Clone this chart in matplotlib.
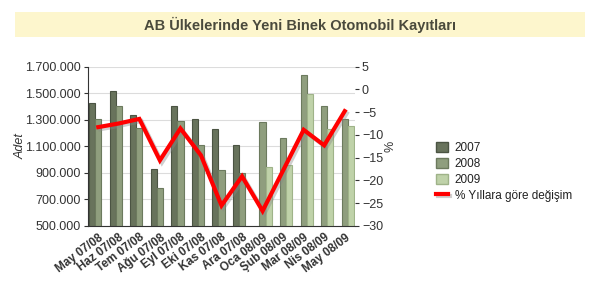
import numpy as np
import matplotlib
matplotlib.use("Agg")
import matplotlib.pyplot as plt
import matplotlib.patheffects as pe
from matplotlib.patches import Rectangle
from matplotlib.lines import Line2D
from matplotlib.ticker import FuncFormatter

plt.rcParams['font.family'] = ['Liberation Sans', 'DejaVu Sans']

categories = ['May 07/08', 'Haz 07/08', 'Tem 07/08', 'Ağu 07/08', 'Eyl 07/08', 'Eki 07/08',
              'Kas 07/08', 'Ara 07/08', 'Oca 08/09', 'Şub 08/09', 'Mar 08/09', 'Nis 08/09',
              'May 08/09']
s2007 = [1425000, 1517500, 1332500, 932500, 1405000, 1307500, 1232500, 1110000,
         None, None, None, None, None]
s2008 = [1307500, 1405000, 1240000, 785000, 1287500, 1112500, 920000, 900000,
         1285000, 1165000, 1637500, 1400000, 1307500]
s2009 = [None, None, None, None, None, None, None, None,
         945000, 957500, 1495000, 1230000, 1250000]
pct_change = [-8.3, -7.5, -6.5, -15.6, -8.6, -14.5, -25.5, -19.1, -26.7, -17.8, -8.9, -12.3, -4.8]
series_names = ['2007', '2008', '2009']
line_name = '% Yıllara göre değişim'
title = 'AB Ülkelerinde Yeni Binek Otomobil Kayıtları'

face = ['#68735c', '#8f9e7e', '#bfd2a9']
edge = ['#4b5443', '#6c7a5e', '#9fb389']

fig = plt.figure(figsize=(6, 3), dpi=100)
fig.patch.set_facecolor('white')

# title band
fig.patches.append(Rectangle((15 / 600, 1 - 37 / 300), 570 / 600, 25 / 300,
                             transform=fig.transFigure, facecolor='#fdf6cd',
                             edgecolor='none', zorder=0))
fig.text(0.5, 1 - 24.5 / 300, title, ha='center', va='center', fontsize=10.5,
         fontweight='bold', color='#4a4a3c')

ax = fig.add_axes([88 / 600, 1 - 226 / 300, 267 / 600, 159.5 / 300])
x = np.arange(len(categories))
w = 0.3
offsets = [-0.3, 0.0, 0.3]
for data, off, fc, ec in zip([s2007, s2008, s2009], offsets, face, edge):
    xs = [xi + off for xi, v in zip(x, data) if v is not None]
    vs = [v for v in data if v is not None]
    ax.bar(xs, vs, width=w, color=fc, edgecolor=ec, linewidth=0.8, zorder=2)

ax.set_xlim(-0.5, len(categories) - 0.5)
ax.set_ylim(500000, 1700000)
ax.set_yticks(np.arange(500000, 1700001, 200000))
ax.yaxis.set_major_formatter(FuncFormatter(lambda v, p: f"{int(v):,}".replace(',', '.')))
ax.grid(axis='y', color='#dcdcdc', linewidth=0.8, zorder=0)
ax.set_axisbelow(True)
ax.set_xticks(x)
ax.set_xticklabels(categories, rotation=37, ha='right', rotation_mode='anchor',
                   fontsize=8.5, fontweight='bold', color='#333333')
ax.tick_params(axis='x', length=0, pad=4)
ax.tick_params(axis='y', labelsize=9, colors='#333333', length=3, pad=2)
for s in ['top', 'right']:
    ax.spines[s].set_visible(False)
ax.spines['left'].set_color('#333333')
ax.spines['bottom'].set_color('#333333')
ax.set_ylabel('Adet', fontsize=9, style='italic', color='#333333', labelpad=-1)

ax2 = ax.twinx()
ax2.set_ylim(-30, 5)
ax2.set_yticks(np.arange(-30, 6, 5))
ax2.plot(x, pct_change, color='#ff0000', linewidth=3, solid_joinstyle='miter', zorder=5,
         path_effects=[pe.SimpleLineShadow(offset=(1.5, -1.5), shadow_color='#888888', alpha=0.4),
                       pe.Normal()])
for s in ['top', 'left', 'bottom', 'right']:
    ax2.spines[s].set_visible(False)
ax2.tick_params(axis='y', labelsize=9, colors='#333333', length=3, pad=2)
ax2.set_ylabel('%', fontsize=9, color='#333333', labelpad=1)

handles = [Rectangle((0, 0), 1, 1, facecolor=fc, edgecolor=ec) for fc, ec in zip(face, edge)]
handles.append(Line2D([0], [0], color='#ff0000', linewidth=3,
                      path_effects=[pe.SimpleLineShadow(offset=(1.5, -1.5), shadow_color='#888888', alpha=0.4),
                                    pe.Normal()]))
fig.legend(handles, series_names + [line_name], loc='upper left',
           bbox_to_anchor=(430 / 600, 1 - 136 / 300), frameon=False, fontsize=8.5,
           handlelength=1.0, handleheight=1.0, handletextpad=0.6, labelspacing=0.3,
           borderpad=0, labelcolor='#222222')

fig.savefig('out.png', dpi=100, facecolor='white')
